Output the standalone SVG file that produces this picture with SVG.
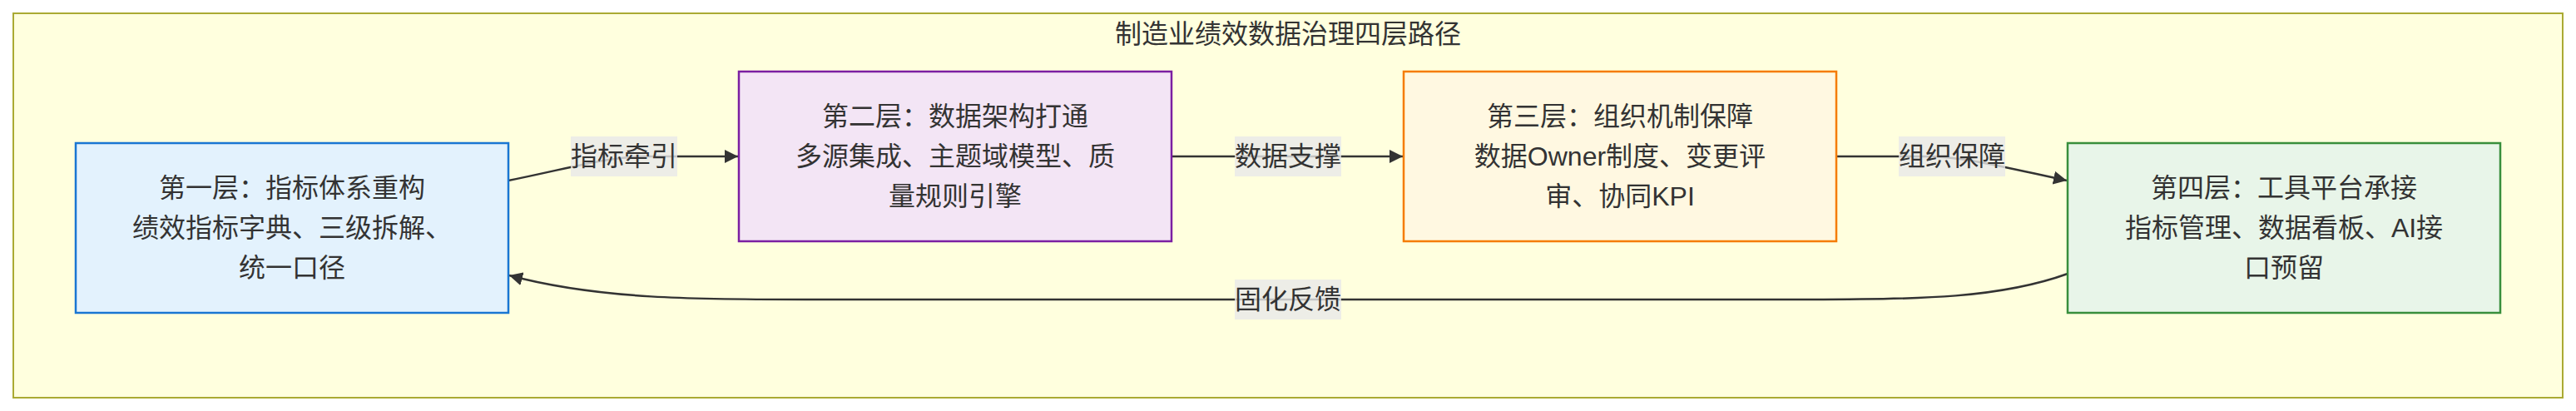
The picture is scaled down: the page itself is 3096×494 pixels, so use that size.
<svg xmlns="http://www.w3.org/2000/svg" width="3096" height="494" viewBox="0 0 3096 494">
<style>
  text { font-family: "Liberation Sans", "Noto Sans CJK SC", sans-serif; font-size: 32px; fill: #333333; text-anchor: middle; dominant-baseline: central; }
  .cluster { fill: #ffffde; stroke: #aaaa33; stroke-width: 2; }
  .edge { fill: none; stroke: #333333; stroke-width: 2.5; }
  .lbl { fill: #e8e8e8; fill-opacity: 0.8; }
  .n1 { fill: #e3f2fd; stroke: #1976d2; stroke-width: 2.5; }
  .n2 { fill: #f3e5f5; stroke: #7b1fa2; stroke-width: 2.5; }
  .n3 { fill: #fff8e1; stroke: #f57c00; stroke-width: 2.5; }
  .n4 { fill: #e8f5e9; stroke: #388e3c; stroke-width: 2.5; }
</style>
<defs>
  <marker id="arrow" viewBox="0 0 10 10" refX="10" refY="5" markerWidth="16" markerHeight="16" markerUnits="userSpaceOnUse" orient="auto">
    <path d="M0,0 L10,5 L0,10 z" fill="#333333"/>
  </marker>
</defs>
<g id="cluster">
  <rect class="cluster" x="16" y="16" width="3064" height="462"/>
  <text x="1548" y="41">制造业绩效数据治理四层路径</text>
</g>
<g id="connectors">
  <path class="edge" d="M611,217 C690,201 730,188 780,188 L887,188" marker-end="url(#arrow)"/>
  <path class="edge" d="M1408,188 L1686,188" marker-end="url(#arrow)"/>
  <path class="edge" d="M2207,188 L2310,188 C2360,188 2400,199 2484,217" marker-end="url(#arrow)"/>
  <path class="edge" d="M2485,329 C2405,358 2310,360 2175,360 L968,360 C840,360 720,360 612,331" marker-end="url(#arrow)"/>
  <g id="label-e1"><rect class="lbl" x="686" y="164" width="128" height="48"/><text x="750" y="188">指标牵引</text></g>
  <g id="label-e2"><rect class="lbl" x="1484" y="164" width="128" height="48"/><text x="1548" y="188">数据支撑</text></g>
  <g id="label-e3"><rect class="lbl" x="2282" y="164" width="128" height="48"/><text x="2346" y="188">组织保障</text></g>
  <g id="label-e4"><rect class="lbl" x="1484" y="336" width="128" height="48"/><text x="1548" y="360">固化反馈</text></g>
</g>
<g id="node1">
  <rect class="n1" x="91" y="172" width="520" height="204"/>
  <text x="351" y="226">第一层：指标体系重构</text>
  <text x="351" y="274">绩效指标字典、三级拆解、</text>
  <text x="351" y="322">统一口径</text>
</g>
<g id="node2">
  <rect class="n2" x="888" y="86" width="520" height="204"/>
  <text x="1148" y="140">第二层：数据架构打通</text>
  <text x="1148" y="188">多源集成、主题域模型、质</text>
  <text x="1148" y="236">量规则引擎</text>
</g>
<g id="node3">
  <rect class="n3" x="1687" y="86" width="520" height="204"/>
  <text x="1947" y="140">第三层：组织机制保障</text>
  <text x="1947" y="188">数据Owner制度、变更评</text>
  <text x="1947" y="236">审、协同KPI</text>
</g>
<g id="node4">
  <rect class="n4" x="2485" y="172" width="520" height="204"/>
  <text x="2745" y="226">第四层：工具平台承接</text>
  <text x="2745" y="274">指标管理、数据看板、AI接</text>
  <text x="2745" y="322">口预留</text>
</g>
</svg>
